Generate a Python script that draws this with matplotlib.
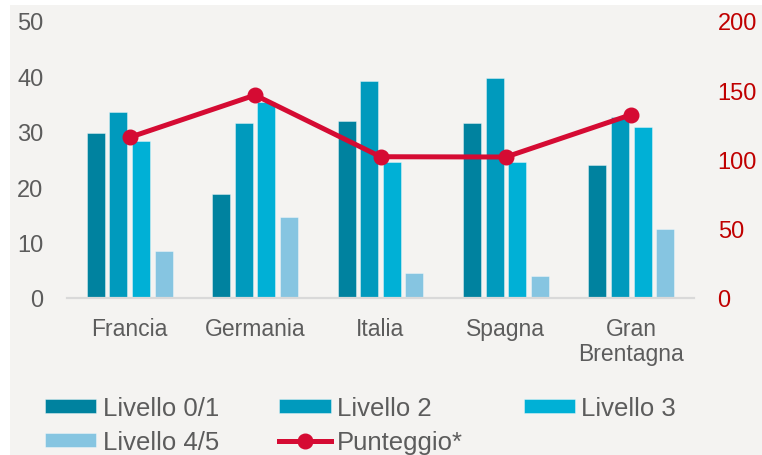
import numpy as np
import matplotlib
matplotlib.use('Agg')
import matplotlib.pyplot as plt
from matplotlib.patches import Rectangle

plt.rcParams['font.family'] = ['Liberation Sans', 'DejaVu Sans']

# dati
paesi = ["Francia", "Germania", "Italia", "Spagna", "Gran\nBrentagna"]
livello_01 = [29.8, 18.7, 31.9, 31.6, 24.0]
livello_2 = [33.5, 31.5, 39.2, 39.8, 32.7]
livello_3 = [28.4, 35.3, 24.5, 24.5, 30.9]
livello_45 = [8.4, 14.7, 4.6, 4.0, 12.4]
punteggio = [116, 146.5, 102, 101.8, 132.4]

serie = [
    ("Livello 0/1", livello_01, '#00829f'),
    ("Livello 2", livello_2, '#009abd'),
    ("Livello 3", livello_3, '#00b0d6'),
    ("Livello 4/5", livello_45, '#86c5e1'),
]
rosso = '#d50b33'
grigio = '#5c5c5c'

W, H = 762, 456
fig = plt.figure(figsize=(W / 100, H / 100), dpi=100, facecolor='white')
fig.patches.append(Rectangle((10 / W, 0), 1, 1 - 6 / H, transform=fig.transFigure,
                             facecolor='#f4f3f1', edgecolor='none', zorder=-10))

ax = fig.add_axes([67 / W, 1 - 299 / H, 627 / W, 277 / H])
ax.set_facecolor('none')
x = np.arange(len(paesi))
step = 0.18
width = 0.143
bars = []
for i, (nome, valori, col) in enumerate(serie):
    b = ax.bar(x + (i - 1.5) * step, valori, width, color=col,
               edgecolor=(1, 1, 1, 0.45), linewidth=0.6, label=nome, zorder=2)
    bars.append(b)

ax.set_xlim(-0.5, 4.5)
ax.set_ylim(0, 50)
ax.set_yticks([0, 10, 20, 30, 40, 50])
ax.set_xticks(x)
ax.set_xticklabels(paesi, linespacing=1.1)
for s in ['top', 'right', 'left']:
    ax.spines[s].set_visible(False)
ax.spines['bottom'].set_color('#d9d9d9')
ax.spines['bottom'].set_linewidth(1.6)
ax.tick_params(axis='y', length=0, pad=17, labelsize=17, labelcolor=grigio)
ax.tick_params(axis='x', length=0, pad=14, labelsize=16.5, labelcolor=grigio)

ax2 = ax.twinx()
ax2.set_ylim(0, 200)
ax2.set_yticks([0, 50, 100, 150, 200])
for s in ax2.spines.values():
    s.set_visible(False)
ax2.tick_params(axis='y', length=0, pad=17, labelsize=17, labelcolor='#c00000')
linea, = ax2.plot(x, punteggio, color=rosso, linewidth=3.6, marker='o',
                  markersize=10.5, label="Punteggio*", zorder=3)

handles = [bars[0], bars[3], bars[1], linea, bars[2]]
labels = ["Livello 0/1", "Livello 4/5", "Livello 2", "Punteggio*", "Livello 3"]
leg = fig.legend(handles, labels, ncol=3, loc='upper left',
                 bbox_to_anchor=(45 / W, 1 - 397 / H), frameon=False,
                 fontsize=18.5, handlelength=2.0, handleheight=0.5,
                 handletextpad=0.25, columnspacing=2.35, labelspacing=0.4,
                 borderpad=0, borderaxespad=0)
for t in leg.get_texts():
    t.set_color(grigio)

fig.savefig('out.png', dpi=100, facecolor=fig.get_facecolor())
